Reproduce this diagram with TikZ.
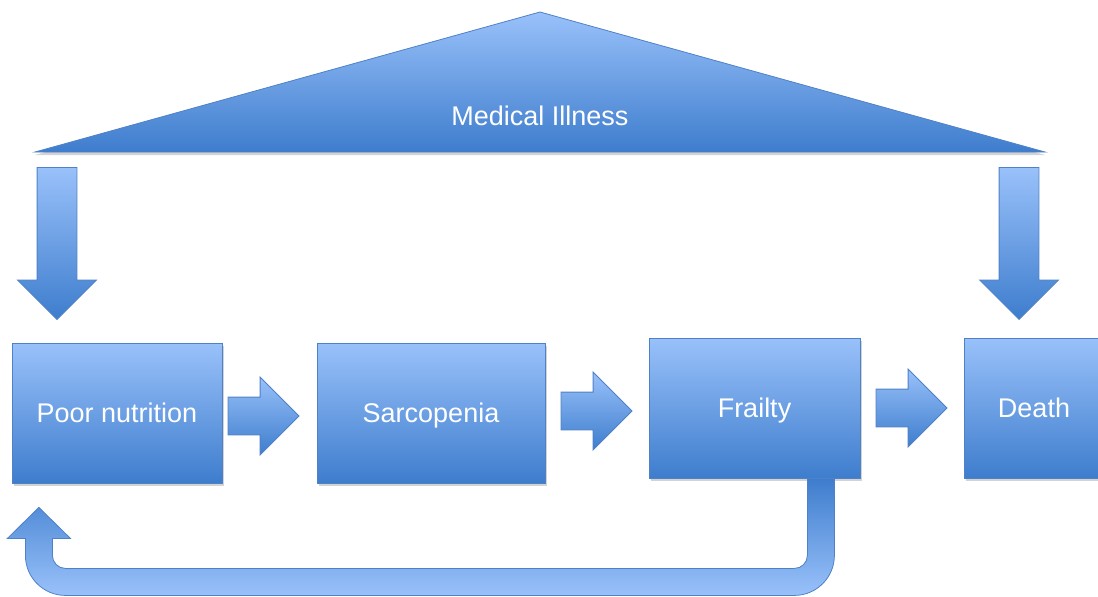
\documentclass[tikz,border=0pt]{standalone}
\usepackage{fontspec}
\setmainfont{Liberation Sans}
\usepackage{tikz}
\usetikzlibrary{shapes.arrows, shadows, calc}
\definecolor{blight}{RGB}{153, 193, 250}
\definecolor{bdark}{RGB}{62, 125, 205}
\definecolor{bline}{RGB}{79, 129, 199}

\begin{document}
\begin{tikzpicture}[x=0.5pt, y=0.5pt, thin,
  box/.style={draw=bline, top color=blight, bottom color=bdark, inner sep=0pt,
    minimum height=70pt, text=white, font=\fontsize{13.5}{16}\selectfont,
    text height=12.5pt, text depth=3pt,
    drop shadow={shadow xshift=1pt, shadow yshift=-1.5pt, opacity=0.35}},
  rarrow/.style={single arrow, draw=bline, top color=blight, bottom color=bdark,
    inner xsep=0pt, inner ysep=9.25pt, single arrow head extend=10pt,
    minimum height=35.5pt, anchor=tip},
  darrow/.style={single arrow, shape border rotate=270, draw=bline, top color=blight,
    bottom color=bdark, inner sep=9.75pt, single arrow head extend=9.75pt,
    minimum height=76pt, anchor=tip}]
  \useasboundingbox (0, 0) rectangle (1098, 596);
  \draw[draw=bline, top color=blight, bottom color=bdark,
    drop shadow={shadow xshift=0pt, shadow yshift=-1.5pt, opacity=0.35}]
    (35, 444) to (540, 584) to (1045, 444) to cycle;
  \node[text=white, font=\fontsize{13.5}{16}\selectfont] (ill) at (540, 480) {Medical Illness};

  \node[box, minimum width=105pt] (poor) at (117, 183) {Poor nutrition};
  \node[box, minimum width=114pt] (sarco) at (431, 183) {Sarcopenia};
  \node[box, minimum width=105.5pt] (frail) at (754.5, 188) {Frailty};
  \node[box, minimum width=70pt] (death) at (1034, 188) {Death};

  \node[rarrow] (a1) at ($(sarco.west)+(-17, -3)$) {};
  \node[rarrow] (a2) at ($(frail.west)+(-16, -3)$) {};
  \node[rarrow] (a3) at ($(death.west)+(-16, 0)$) {};
  \node[darrow] (dl) at (57, 276) {};
  \node[darrow] (dr) at (1019, 276) {};

  \coordinate (ustart) at ($(frail.south east)+(-26, 0)$);
  \draw[draw=bline, top color=bdark, bottom color=blight]
    (ustart) -- ++(0, -77) arc[start angle=0, end angle=-90, radius=40]
    -- ++(-729, 0) arc[start angle=270, end angle=180, radius=40]
    -- ++(0, 17) -- ++(-18, 0) -- ++(31.5, 31) -- ++(31.5, -31) -- ++(-18, 0)
    -- ++(0, -17) arc[start angle=180, end angle=270, radius=13]
    -- ++(729, 0) arc[start angle=-90, end angle=0, radius=13]
    -- ++(0, 77) -- cycle;
\end{tikzpicture}
\end{document}
